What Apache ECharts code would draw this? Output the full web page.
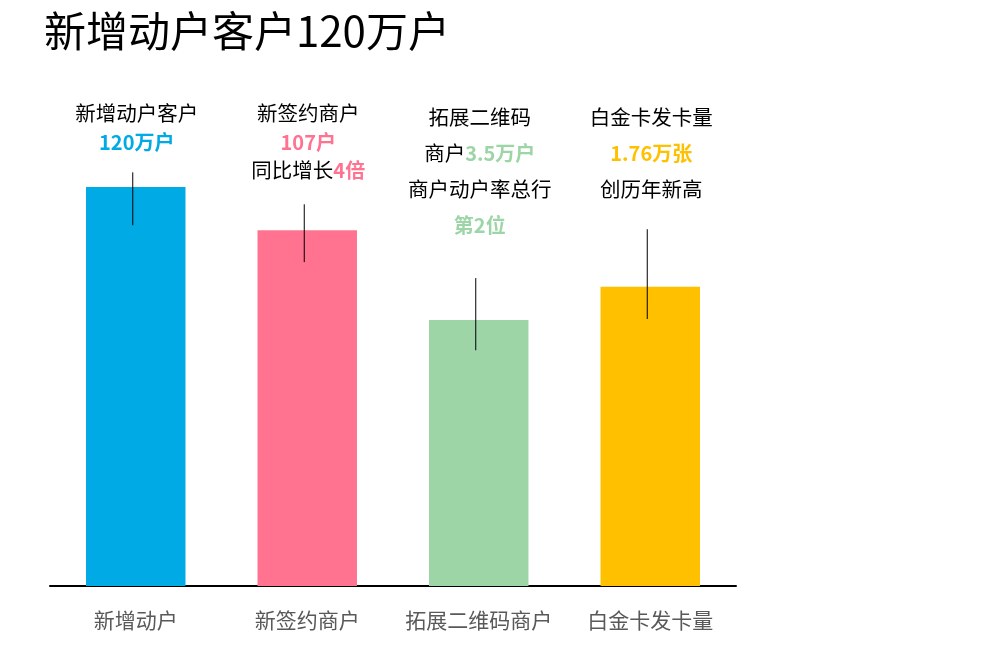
<!DOCTYPE html>
<html><head><meta charset="utf-8">
<script src="https://cdn.jsdelivr.net/npm/echarts@6/dist/echarts.min.js"></script>
<style>html,body{margin:0;padding:0;background:#fff}#c{width:1008px;height:658px}</style>
</head><body><div id="c"></div>
<script>
const categories = ['新增动户', '新签约商户', '拓展二维码商户', '白金卡发卡量'];
const values = [120, 107, 80, 90];
const barColors = ['#00AAE4', '#FF7391', '#9DD5A7', '#FFC000'];
// annotation leader lines: [category index, top value, bottom value]
const leaderLines = [[0, 124.4, 108.5], [1, 114.8, 97.4], [2, 92.6, 70.9], [3, 107.3, 80.3]];
const annoTexts = [
  ['新增动户客户', '{b|120万户}'],
  ['新签约商户', '{b|107户}', '同比增长{b|4倍}'],
  ['拓展二维码', '商户{b|3.5万户}', '商户动户率总行', '{b|第2位}'],
  ['白金卡发卡量', '{b|1.76万张}', '创历年新高']
];
const annoTop = 146.4;
const annoLineHeights = [28.5, 28.5, 36, 36];
const FONT = '"Noto Sans CJK SC", "Microsoft YaHei", sans-serif';

const chart = echarts.init(document.getElementById('c'));
chart.setOption({
  animation: false,
  title: { text: '新增动户客户120万户', left: 39, top: 5,
    textStyle: { fontSize: 42, fontWeight: 'normal', color: '#000', fontFamily: FONT } },
  grid: { left: 50, right: 272, top: 87.25, bottom: 72 },
  xAxis: { type: 'category', data: categories,
    axisLine: { lineStyle: { color: '#000', width: 2 } },
    axisTick: { show: false },
    axisLabel: { interval: 0, fontSize: 21, color: '#595959', margin: 24, fontFamily: FONT } },
  yAxis: { type: 'value', min: 0, max: 150, show: false, splitLine: { show: false } },
  series: [
    { type: 'bar', barWidth: '58%',
      data: values.map((v, i) => ({ value: v, itemStyle: { color: barColors[i] } })) },
    { type: 'custom', z: 5, data: leaderLines,
      renderItem: function (params, api) {
        const i = api.value(0);
        const p1 = api.coord([i, api.value(1)]);
        const p2 = api.coord([i, api.value(2)]);
        const pt = api.coord([i, annoTop]);
        return { type: 'group', children: [
          { type: 'line', shape: { x1: p1[0] - 3, y1: p1[1], x2: p2[0] - 3, y2: p2[1] },
            style: { stroke: '#000', lineWidth: 1 } },
          { type: 'text', x: pt[0] + 1, y: pt[1],
            style: { text: annoTexts[i].join('\n'), align: 'center', verticalAlign: 'top',
              fontSize: 20.5, fill: '#000', fontFamily: FONT, lineHeight: annoLineHeights[i],
              rich: { b: { fontSize: 20, fontWeight: 'bold', fill: barColors[i], fontFamily: FONT,
                lineHeight: annoLineHeights[i] } } } }
        ] };
      } }
  ]
});
</script></body></html>
